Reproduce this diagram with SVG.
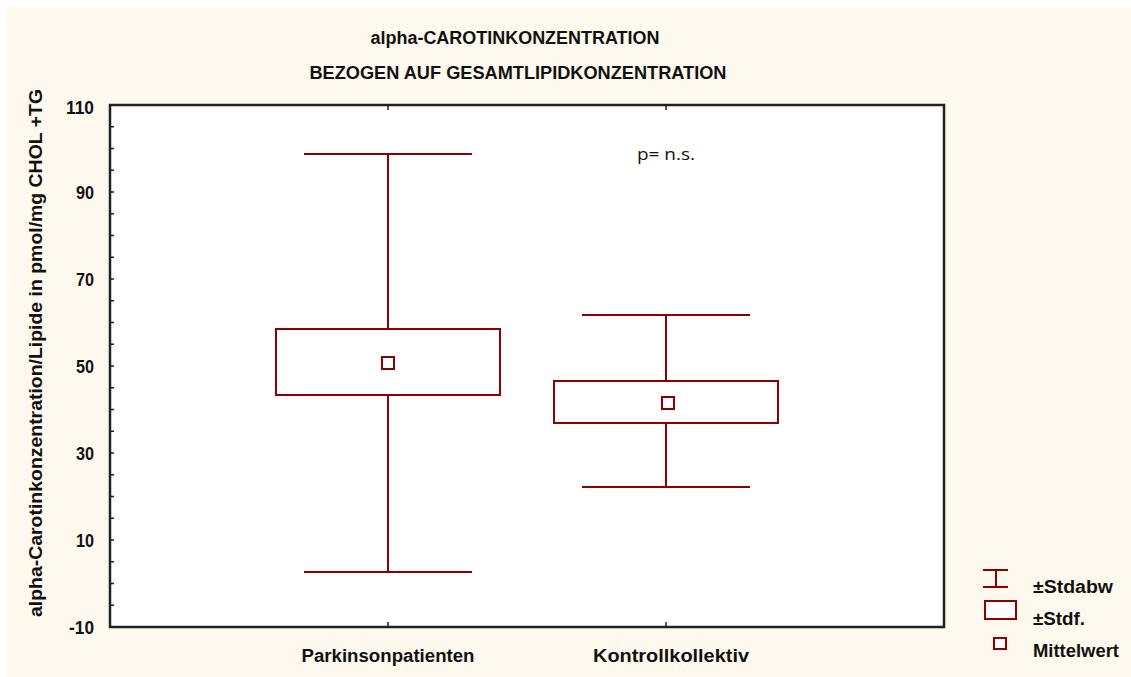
<svg xmlns="http://www.w3.org/2000/svg" width="1131" height="677" viewBox="0 0 1131 677">
<style>
.t{font-family:"Liberation Sans Narrow","Liberation Sans",Arial,sans-serif;font-weight:bold;fill:#111;}
.dr{stroke:#8b0000;stroke-width:2;fill:none;}
.bx{stroke:#8b0000;stroke-width:2;fill:#fff;}
.ax{stroke:#222;stroke-width:1.5;fill:none;}
</style>
<rect x="0" y="0" width="1131" height="677" fill="#ffffff"/>
<rect x="6" y="7" width="1125" height="670" fill="#fef9ee"/>
<g id="title">
<text class="t" x="515" y="44" font-size="18" text-anchor="middle" textLength="289" lengthAdjust="spacingAndGlyphs">alpha-CAROTINKONZENTRATION</text>
<text class="t" x="518" y="79" font-size="18" text-anchor="middle" textLength="417" lengthAdjust="spacingAndGlyphs">BEZOGEN AUF GESAMTLIPIDKONZENTRATION</text>
</g>
<g id="plot">
<rect x="110" y="105" width="834" height="522" fill="#ffffff" stroke="#222" stroke-width="2.5"/>
<path class="ax" d="M110 126.75h4M110 148.5h4M110 170.25h4M110 192h4M110 213.75h4M110 235.5h4M110 257.25h4M110 279h4M110 300.75h4M110 322.5h4M110 344.25h4M110 366h4M110 387.75h4M110 409.5h4M110 431.25h4M110 453h4M110 474.75h4M110 496.5h4M110 518.25h4M110 540h4M110 561.75h4M110 583.5h4M110 605.25h4M388 105v5M666 105v5M388 627v-5M666 627v-5"/>
</g>
<g id="yaxis">
<text class="t" x="94" y="114" font-size="18" text-anchor="end" textLength="28" lengthAdjust="spacingAndGlyphs">110</text>
<text class="t" x="94" y="199" font-size="18" text-anchor="end" textLength="18" lengthAdjust="spacingAndGlyphs">90</text>
<text class="t" x="94" y="286" font-size="18" text-anchor="end" textLength="18" lengthAdjust="spacingAndGlyphs">70</text>
<text class="t" x="94" y="373" font-size="18" text-anchor="end" textLength="18" lengthAdjust="spacingAndGlyphs">50</text>
<text class="t" x="94" y="460" font-size="18" text-anchor="end" textLength="18" lengthAdjust="spacingAndGlyphs">30</text>
<text class="t" x="94" y="547" font-size="18" text-anchor="end" textLength="18" lengthAdjust="spacingAndGlyphs">10</text>
<text class="t" x="94" y="634" font-size="18" text-anchor="end" textLength="25" lengthAdjust="spacingAndGlyphs">-10</text>
<text class="t" transform="translate(42 353) rotate(-90)" x="0" y="0" font-size="18" text-anchor="middle" textLength="528" lengthAdjust="spacingAndGlyphs">alpha-Carotinkonzentration/Lipide in pmol/mg CHOL +TG</text>
</g>
<g id="xaxis">
<text class="t" x="388" y="662" font-size="18" text-anchor="middle" textLength="173" lengthAdjust="spacingAndGlyphs">Parkinsonpatienten</text>
<text class="t" x="671" y="662" font-size="18" text-anchor="middle" textLength="156" lengthAdjust="spacingAndGlyphs">Kontrollkollektiv</text>
</g>
<g id="parkinson">
<path class="dr" d="M388 154V329M388 395V572M304 154H472M304 572H472"/>
<rect class="bx" x="276" y="329" width="224" height="66"/>
<rect class="bx" x="382" y="357" width="12" height="12"/>
</g>
<g id="kontroll">
<path class="dr" d="M666 315V381M666 423V487M582 315H750M582 487H750"/>
<rect class="bx" x="554" y="381" width="224" height="42"/>
<rect class="bx" x="662" y="397" width="12" height="12"/>
</g>
<g id="pvalue">
<text x="666" y="160" font-size="16" text-anchor="middle" font-family="'Open Sans','Noto Sans',sans-serif" fill="#111" textLength="58" lengthAdjust="spacingAndGlyphs">p= n.s.</text>
</g>
<g id="legend">
<path class="dr" d="M983 570H1008M996 570V587M983 587H1008"/>
<rect class="bx" x="985" y="601" width="31" height="18"/>
<rect class="bx" x="994" y="638" width="12" height="11"/>
<text class="t" x="1033" y="593" font-size="18" textLength="80" lengthAdjust="spacingAndGlyphs">±Stdabw</text>
<text class="t" x="1033" y="625" font-size="18" textLength="52" lengthAdjust="spacingAndGlyphs">±Stdf.</text>
<text class="t" x="1033" y="657" font-size="18" textLength="86" lengthAdjust="spacingAndGlyphs">Mittelwert</text>
</g>
</svg>
